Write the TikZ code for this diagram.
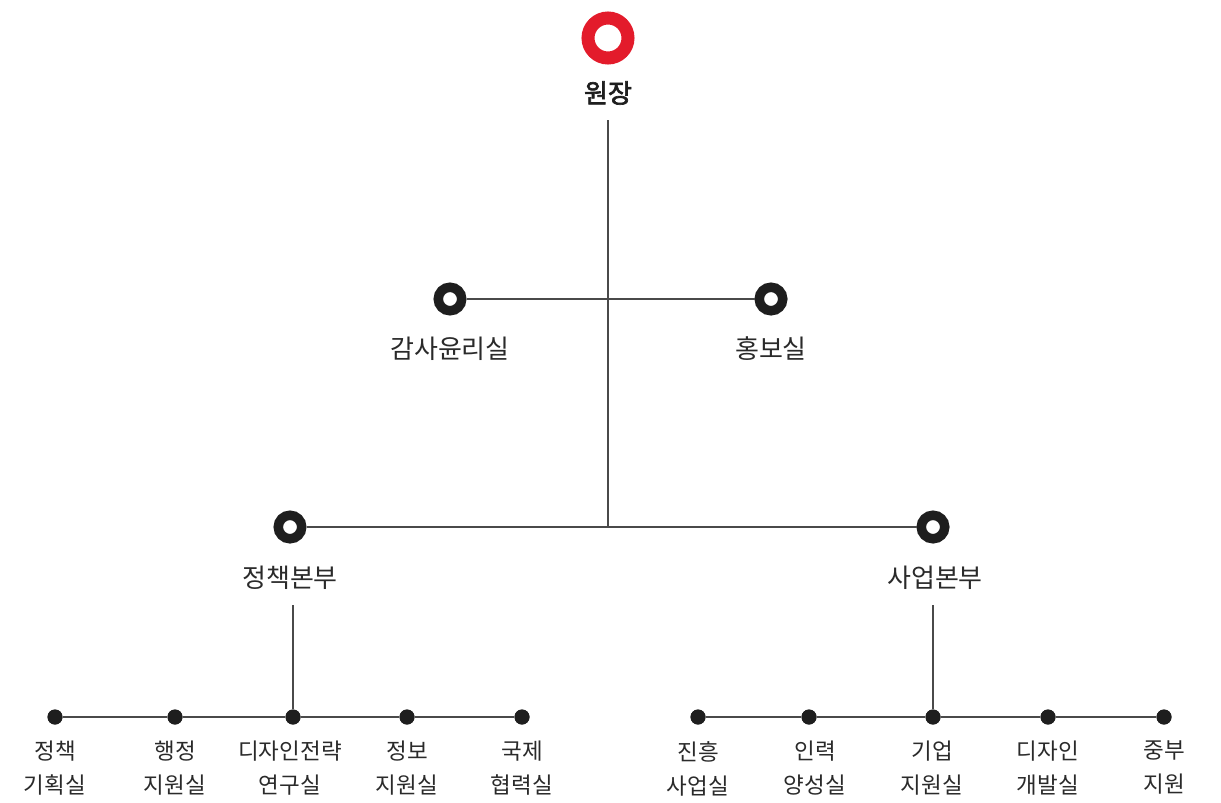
\documentclass[tikz,border=0pt]{standalone}
\usepackage{fontspec}
\setmainfont{Noto Sans CJK KR}
\newfontfamily\krbold{Noto Sans CJK KR}[FakeBold=2.5]
\definecolor{ringred}{HTML}{E31B2B}
\definecolor{ink}{HTML}{1E1E1E}
\definecolor{txt}{HTML}{2A2A2A}
\definecolor{linegray}{HTML}{4A4A4A}
\begin{document}
\begin{tikzpicture}[x=1pt,y=-1pt,
  conn/.style={draw=linegray,line width=1.1pt},
  bigring/.style={circle,draw=ringred,line width=13pt,minimum size=40pt,inner sep=0pt,fill=white},
  midring/.style={circle,draw=ink,line width=9.5pt,minimum size=23.5pt,inner sep=0pt,fill=white},
  dot/.style={circle,fill=ink,minimum size=15pt,inner sep=0pt},
  lbl/.style={text=txt,font=\fontsize{26}{30}\selectfont,inner sep=0pt},
  small/.style={text=txt,font=\fontsize{22.5}{34}\selectfont,inner sep=0pt,align=center},
]
\useasboundingbox (0,0) rectangle (1221,803);
% top
\node[bigring] (top) at (608,38) {};
\node[text=ink,font=\krbold\fontsize{26}{30}\selectfont,inner sep=0pt] (topl) at (608,93) {원장};
\coordinate (topbot) at (608,120);
\coordinate (j2) at (608,528);
% level 2
\node[midring] (audit) at (450,299) {};
\node[midring] (pr) at (771,299) {};
\node[lbl] (auditl) at (450,349) {감사윤리실};
\node[lbl] (prl) at (771,349) {홍보실};
% level 3
\node[midring] (pol) at (290,527) {};
\node[midring] (biz) at (933,527) {};
\node[lbl] (poll) at (290,578) {정책본부};
\node[lbl] (bizl) at (935,578) {사업본부};
\coordinate (polv) at (293,605);
\coordinate (bizv) at (933,605);
% connectors
\draw[conn] (topbot) -- (j2);
\draw[conn] (audit) -- (pr);
\draw[conn] (pol) -- (biz);
% bottom dots
\foreach \n/\x in {a1/55,a2/175,a3/293,a4/407,a5/522,b1/698,b2/809,b3/933,b4/1048,b5/1164}
  \node[dot] (\n) at (\x,717) {};
\draw[conn] (polv) -- (a3);
\draw[conn] (bizv) -- (b3);
\draw[conn] (a1) -- (a2) -- (a3) -- (a4) -- (a5);
\draw[conn] (b1) -- (b2) -- (b3) -- (b4) -- (b5);
\foreach \n in {a1,a2,a3,a4,a5,b1,b2,b3,b4,b5}
  \node[dot] at (\n) {};
\node[small,anchor=north] (a1l) at (55,741) {정책\\기획실};
\node[small,anchor=north] (a2l) at (175,741) {행정\\지원실};
\node[small,anchor=north] (a3l) at (290,741) {디자인전략\\연구실};
\node[small,anchor=north] (a4l) at (407,741) {정보\\지원실};
\node[small,anchor=north] (a5l) at (522,741) {국제\\협력실};
\node[small,anchor=north] (b1l) at (698,741) {진흥\\사업실};
\node[small,anchor=north] (b2l) at (815,741) {인력\\양성실};
\node[small,anchor=north] (b3l) at (932,741) {기업\\지원실};
\node[small,anchor=north] (b4l) at (1048,741) {디자인\\개발실};
\node[small,anchor=north] (b5l) at (1164,741) {중부\\지원};
\end{tikzpicture}
\end{document}
